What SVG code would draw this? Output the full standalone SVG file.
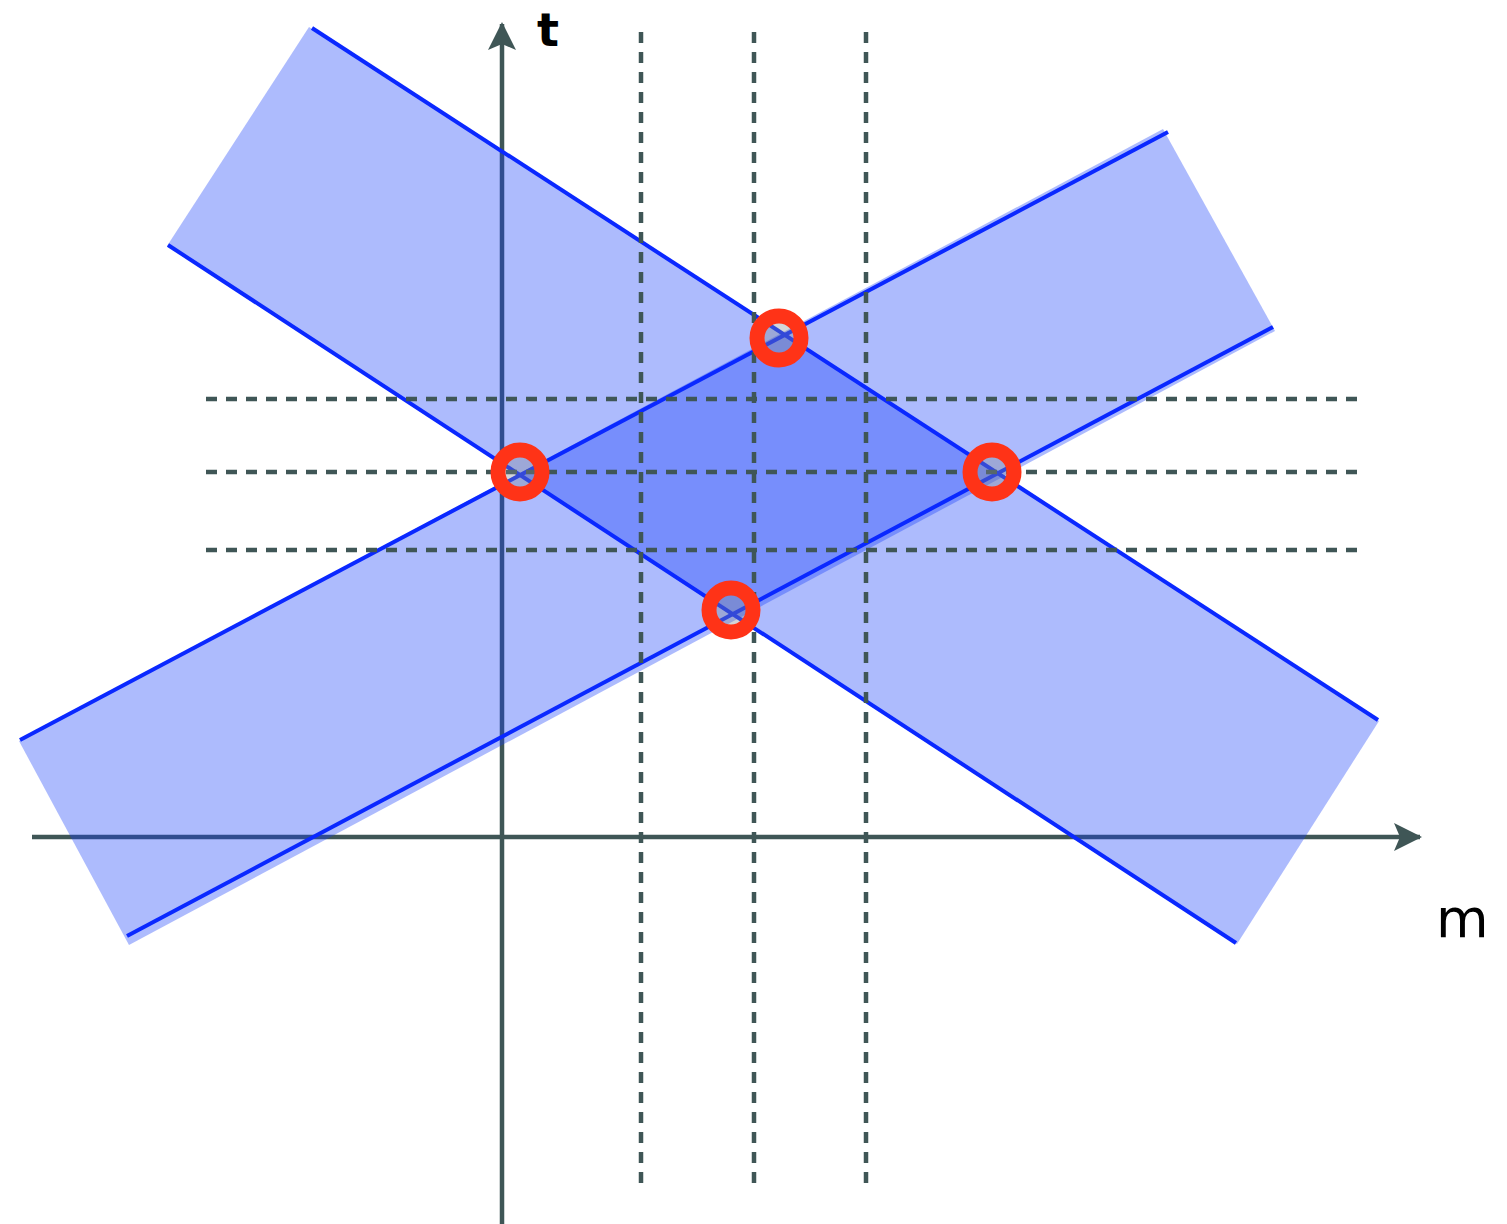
<svg xmlns="http://www.w3.org/2000/svg" width="1507" height="1224" viewBox="0 0 1507 1224">
<style>
.axis{stroke:#3f5656;stroke-width:4.5;fill:none}
.dash{stroke:#3f5656;stroke-width:4.5;stroke-dasharray:11 9;fill:none}
.band{fill:#153cf9;fill-opacity:0.35;stroke:none}
.edge{stroke:#0a28ff;stroke-width:4;fill:none}
.mark{fill:#808890;fill-opacity:0.35;stroke:#ff3317;stroke-width:15}
.lbl{font-family:"DejaVu Sans",sans-serif;font-size:54px;fill:#000}
</style>
<defs>
<marker id="arr" markerWidth="28" markerHeight="28" viewBox="0 0 28 28" refX="26" refY="14" orient="auto" markerUnits="userSpaceOnUse">
<path d="M0,0 L28,14 L0,28 L6,14 Z" fill="#3f5656"/>
</marker>
</defs>
<g id="axes">
<line class="axis" x1="502" y1="1224" x2="502" y2="24" marker-end="url(#arr)"/>
<line class="axis" x1="32" y1="837" x2="1420" y2="837" marker-end="url(#arr)"/>
</g>
<g id="band1">
<polygon class="band" points="309,27 1379,721 1237,944 167,246"/>
</g>
<g id="band2">
<polygon class="band" points="19,741 1163,129 1275,331 129,945"/>
</g>
<g id="edges">
<line class="edge" x1="312" y1="28" x2="1378" y2="720"/>
<line class="edge" x1="168" y1="245" x2="1236" y2="943"/>
<line class="edge" x1="20" y1="740" x2="1168" y2="132"/>
<line class="edge" x1="127" y1="936" x2="1273" y2="327"/>
</g>
<g id="grid">
<line class="dash" x1="641" y1="1183" x2="641" y2="25"/>
<line class="dash" x1="754" y1="1183" x2="754" y2="25"/>
<line class="dash" x1="866" y1="1183" x2="866" y2="25"/>
<line class="dash" x1="1357" y1="399" x2="200" y2="399"/>
<line class="dash" x1="1357" y1="472" x2="200" y2="472"/>
<line class="dash" x1="1357" y1="550" x2="200" y2="550"/>
</g>
<g id="points">
<circle class="mark" cx="779" cy="338" r="22"/>
<circle class="mark" cx="520" cy="472" r="22"/>
<circle class="mark" cx="992" cy="472" r="22"/>
<circle class="mark" cx="731" cy="610" r="22"/>
</g>
<g id="labels">
<text class="lbl" x="537" y="46" style="font-weight:bold;font-size:46px">t</text>
<text class="lbl" x="1436" y="937">m</text>
</g>
</svg>
